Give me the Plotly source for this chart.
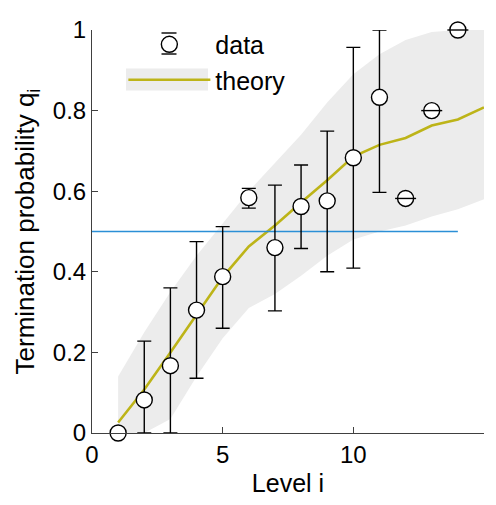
import plotly.graph_objects as go

# ---- data ----
levels = list(range(1, 15))
q_data = [0.0, 0.082, 0.167, 0.305, 0.388, 0.584, 0.46, 0.562, 0.576, 0.683, 0.833, 0.582, 0.8, 1.0]
err_plus = [0.0, 0.146, 0.193, 0.17, 0.124, 0.023, 0.155, 0.103, 0.173, 0.274, 0.167, 0.0, 0.0, 0.0]
err_minus = [0.0, 0.082, 0.167, 0.169, 0.128, 0.026, 0.157, 0.104, 0.176, 0.274, 0.236, 0.0, 0.0, 0.0]

theory_levels = list(range(1, 16))
theory = [0.026, 0.108, 0.2, 0.295, 0.387, 0.463, 0.515, 0.572, 0.627, 0.686, 0.715, 0.732, 0.763, 0.778, 0.808]
band_upper = [0.14, 0.25, 0.35, 0.44, 0.52, 0.6, 0.67, 0.74, 0.82, 0.89, 0.94, 0.975, 0.995, 1.0, 1.0]
band_lower = [0.0, 0.0, 0.035, 0.14, 0.235, 0.31, 0.345, 0.39, 0.44, 0.48, 0.5, 0.515, 0.537, 0.555, 0.58]

threshold_x = [0, 14]
threshold_y = [0.5, 0.5]

x_ticks = [0, 5, 10, 15]
y_ticks = [0, 0.2, 0.4, 0.6, 0.8, 1]
y_tick_labels = ["0", "0.2", "0.4", "0.6", "0.8", "1"]

BAND = "#ececec"
OLIVE = "#bdb418"
BLUE = "#2b8fd6"
FONT = "Liberation Sans, Arial, sans-serif"

L, T, PW, PH = 92, 30, 392, 403  # plot area in px

fig = go.Figure()

fig.add_trace(go.Scatter(x=theory_levels, y=band_upper, mode="lines", line=dict(width=0),
                         showlegend=False, hoverinfo="skip"))
fig.add_trace(go.Scatter(x=theory_levels, y=band_lower, mode="lines", line=dict(width=0),
                         fill="tonexty", fillcolor=BAND, showlegend=False, hoverinfo="skip"))
fig.add_trace(go.Scatter(x=theory_levels, y=theory, mode="lines", name="theory",
                         line=dict(color=OLIVE, width=2.6), legendrank=2))
fig.add_trace(go.Scatter(x=threshold_x, y=threshold_y, mode="lines",
                         line=dict(color=BLUE, width=1.3), showlegend=False))
fig.add_trace(go.Scatter(x=levels, y=q_data, mode="markers", name="data",
                         marker=dict(symbol="circle", size=16, color="white",
                                     line=dict(color="black", width=1.4)),
                         error_y=dict(type="data", symmetric=False, array=err_plus,
                                      arrayminus=err_minus, color="black",
                                      thickness=1.4, width=7),
                         cliponaxis=False, legendrank=1))
# caps drawn over the markers (visible for zero-width error bars)
zero_lv = [lv for lv, p, m in zip(levels, err_plus, err_minus) if p == 0 and m == 0 and lv > 1]
zero_q = [q for lv, q, p, m in zip(levels, q_data, err_plus, err_minus) if p == 0 and m == 0 and lv > 1]
fig.add_trace(go.Scatter(x=zero_lv, y=zero_q, mode="markers",
                         marker=dict(symbol="line-ew", size=15,
                                     line=dict(color="black", width=1.4)),
                         showlegend=False, cliponaxis=False))


def px_x(p):
    return (p - L) / PW


def px_y(p):
    return (T + PH - p) / PH


# legend decorations: grey patch behind the theory sample, error caps on the data symbol
fig.add_shape(type="rect", xref="paper", yref="paper",
              x0=px_x(126), x1=px_x(208), y0=px_y(90.5), y1=px_y(68.5),
              fillcolor=BAND, line=dict(width=0), layer="above")
for cy in (33, 54):
    fig.add_shape(type="line", xref="paper", yref="paper",
                  x0=px_x(161.5), x1=px_x(176.5), y0=px_y(cy), y1=px_y(cy),
                  line=dict(color="black", width=1.4), layer="above")

axis_common = dict(showgrid=False, zeroline=False, showline=True, linecolor="#404040",
                   linewidth=1, ticks="inside", ticklen=6, tickcolor="#404040",
                   tickfont=dict(size=24, color="black", family=FONT), automargin=False)

fig.update_layout(
    width=496, height=505,
    margin=dict(l=L, r=496 - L - PW, t=T, b=505 - T - PH),
    plot_bgcolor="white", paper_bgcolor="white",
    font=dict(family=FONT, color="black"),
    xaxis=dict(range=[0, 15], tickvals=x_ticks,
               title=dict(text="Level i", font=dict(size=25), standoff=7), **axis_common),
    yaxis=dict(range=[0, 1], tickvals=y_ticks, ticktext=y_tick_labels,
               title=dict(text="Termination probability q<sub>i</sub>", font=dict(size=26), standoff=10),
               **axis_common),
    legend=dict(x=0.080, y=1.021, xanchor="left", yanchor="top", bgcolor="rgba(0,0,0,0)",
                font=dict(size=25, family=FONT), itemwidth=82, tracegroupgap=0,
                traceorder="normal"),
)

fig.write_html("out.html", config={"displayModeBar": False},
               post_script="document.body.style.margin='0';")
